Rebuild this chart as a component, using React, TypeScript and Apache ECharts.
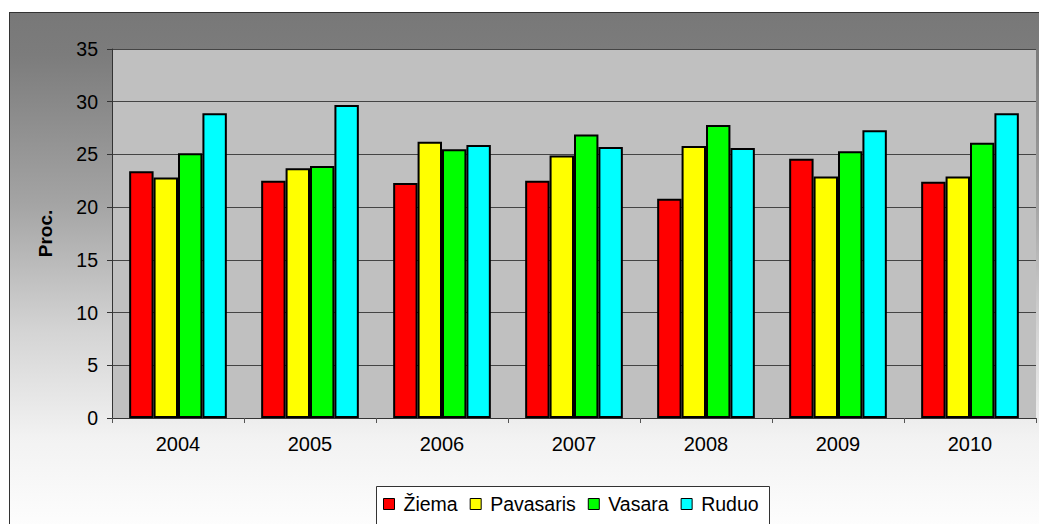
import React, { useEffect, useRef } from "react";
import * as echarts from "echarts";

const categories = ["2004", "2005", "2006", "2007", "2008", "2009", "2010"];
const seriesNames = ["Žiema", "Pavasaris", "Vasara", "Ruduo"];
const ziema = [23.4, 22.5, 22.3, 22.5, 20.8, 24.6, 22.4];
const pavasaris = [22.8, 23.7, 26.2, 24.9, 25.8, 22.9, 22.9];
const vasara = [25.1, 23.9, 25.5, 26.9, 27.8, 25.3, 26.1];
const ruduo = [28.9, 29.7, 25.9, 25.7, 25.6, 27.3, 28.9];
const seriesColors = ["#ff0000", "#ffff00", "#00ff00", "#00ffff"];
const yTicks = { min: 0, max: 35, interval: 5 };

const FONT = "'Liberation Sans', Arial, sans-serif";

export default function App() {
  const ref = useRef<HTMLDivElement>(null);
  useEffect(() => {
    if (!ref.current) return;
    const chart = echarts.init(ref.current, undefined, { renderer: "svg" });
    const values = [ziema, pavasaris, vasara, ruduo];
    chart.setOption({
      animation: false,
      textStyle: { fontFamily: FONT },
      grid: {
        left: 112,
        top: 49,
        right: 3,
        bottom: 106,
        show: true,
        backgroundColor: "#c0c0c0",
        borderWidth: 0,
      },
      graphic: [
        {
          type: "rect",
          z: 3,
          shape: { x: 376.5, y: 486.5, width: 393, height: 60 },
          style: { fill: "#ffffff", stroke: "#333333", lineWidth: 1 },
        },
      ],
      legend: {
        data: seriesNames,
        left: 383,
        top: 494,
        padding: 0,
        itemWidth: 11,
        itemHeight: 11,
        itemGap: 12,
        icon: "rect",
        textStyle: { fontSize: 19.5, color: "#000", fontFamily: FONT, padding: [0, 0, 0, 4] },
        itemStyle: { borderColor: "#000", borderWidth: 1 },
      },
      xAxis: {
        type: "category",
        data: categories,
        axisLine: { lineStyle: { color: "#333", width: 1 } },
        axisTick: { show: true, length: 5, lineStyle: { color: "#555" } },
        axisLabel: { fontSize: 20, color: "#000", margin: 16, fontFamily: FONT },
      },
      yAxis: {
        type: "value",
        min: yTicks.min,
        max: yTicks.max,
        interval: yTicks.interval,
        name: "Proc.",
        nameLocation: "middle",
        nameGap: 57,
        nameRotate: 90,
        nameTextStyle: { fontSize: 19, fontWeight: "bold", color: "#000", fontFamily: FONT },
        axisLine: { show: true, lineStyle: { color: "#333", width: 1 } },
        axisTick: { show: true, length: 5, lineStyle: { color: "#333" } },
        axisLabel: { fontSize: 19.5, color: "#000", margin: 14, fontFamily: FONT },
        splitLine: { show: true, lineStyle: { color: "#444", width: 1 } },
      },
      series: seriesNames.map((name, i) => ({
        name,
        type: "bar",
        data: values[i],
        barGap: "0%",
        barCategoryGap: "26%",
        itemStyle: { color: seriesColors[i], borderColor: "#000", borderWidth: 2 },
      })),
    });
    return () => chart.dispose();
  }, []);
  return (
    <div style={{ position: "absolute", left: 0, top: 0, width: 1039, height: 524, background: "#fff", overflow: "hidden" }}>
      <div
        style={{
          position: "absolute",
          left: 9,
          top: 12,
          width: 1040,
          height: 530,
          border: "1.5px solid #333",
          background:
            "linear-gradient(to bottom, #787878 0%, #7c7c7c 8%, #a4a4a4 36%, #d4d4d4 60%, #f2f2f2 80%, #ffffff 100%)",
        }}
      />
      <div ref={ref} style={{ position: "absolute", left: 0, top: 0, width: 1039, height: 524 }} />
    </div>
  );
}
